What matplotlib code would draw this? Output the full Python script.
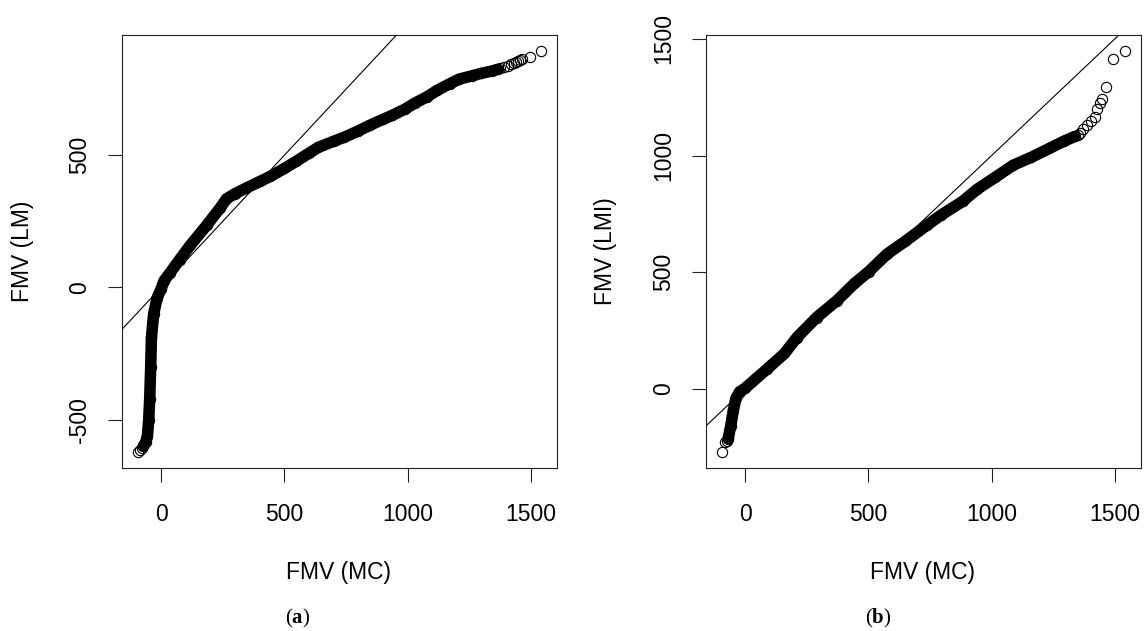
import matplotlib
matplotlib.use("Agg")
import matplotlib.pyplot as plt

plt.rcParams['font.family'] = ['Liberation Sans', 'DejaVu Sans']
plt.rcParams['mathtext.fontset'] = 'custom'
plt.rcParams['mathtext.rm'] = 'Liberation Serif'
plt.rcParams['mathtext.bf'] = 'Liberation Serif:bold'

# ---- Panel (a): FMV (MC) vs FMV (LM) quantile pairs ----
a_body_mc = [-72, -62, -55, -50, -46, -42, -39, -30, -16, 0, 12, 36, 75, 118,
             185, 239, 265, 300, 350, 401, 443, 500, 548, 600, 638, 700, 743,
             800, 848, 900, 938, 990, 1029, 1080, 1119, 1170, 1209, 1260,
             1299, 1340, 1365]
a_body_lm = [-600, -585, -560, -500, -420, -300, -190, -100, -40, -5, 25, 55,
             105, 159, 235, 300, 335, 355, 378, 401, 420, 450, 477, 508, 530,
             553, 568, 592, 614, 636, 651, 675, 697, 722, 745, 770, 788, 800,
             810, 818, 825]
a_tail_mc = [-95, -85, -78, 1375, 1390, 1405, 1419, 1430, 1440, 1449, 1457,
             1464, 1497, 1539]
a_tail_lm = [-622, -614, -606, 830, 834, 838, 844, 848, 852, 856, 860, 864,
             871, 894]

# ---- Panel (b): FMV (MC) vs FMV (LMI) quantile pairs ----
b_body_mc = [-68, -58, -47, -37, -22, 0, 90, 160, 210, 290, 372, 444, 502,
             576, 649, 737, 795, 883, 942, 1015, 1088, 1162, 1235, 1294, 1338]
b_body_lmi = [-210, -158, -89, -40, -12, 3, 86, 152, 220, 306, 378, 452, 503,
              578, 632, 701, 745, 804, 856, 907, 959, 993, 1031, 1062, 1082]
b_tail_mc = [-95, -80, -75, -70, 1350, 1360, 1370, 1389, 1403, 1418, 1428,
             1440, 1450, 1465, 1494, 1540]
b_tail_lmi = [-270, -228, -222, -216, 1090, 1096, 1113, 1130, 1148, 1165,
              1199, 1225, 1242, 1294, 1414, 1448]

# reference line y = x
ref_intercept = 0
ref_slope = 1

x_ticks = [0, 500, 1000, 1500]
a_y_ticks = [-500, 0, 500]
b_y_ticks = [0, 500, 1000, 1500]

W, H = 1146, 631
fig = plt.figure(figsize=(W / 100, H / 100), dpi=100)

ax_pos = [
    [121.5 / W, 163 / H, 435.3 / W, 433 / H],
    [705.5 / W, 163 / H, 435.3 / W, 433 / H],
]

panels = [
    (a_body_mc, a_body_lm, a_tail_mc, a_tail_lm, a_y_ticks, "FMV (LM)", 22.5, 285, "a", 339),
    (b_body_mc, b_body_lmi, b_tail_mc, b_tail_lmi, b_y_ticks, "FMV (LMI)", 606, 865, "b", 923),
]

for pos, (bx, by, tx, ty, yt, ylab, ylab_x, cap_x, cap, xlab_x) in zip(ax_pos, panels):
    ax = fig.add_axes(pos)
    ax.plot(bx, by, color='black', lw=8.3, solid_capstyle='round',
            solid_joinstyle='round', zorder=4)
    ax.plot(bx + tx, by + ty, linestyle='none', marker='o', ms=7.4,
            mfc='none', mec='black', mew=0.8, zorder=3)
    ax.margins(0.04)
    ax.autoscale_view()
    xl = ax.get_xlim()
    yl = ax.get_ylim()
    ax.axline((0, ref_intercept), slope=ref_slope, color='black', lw=0.8, zorder=2)
    ax.set_xlim(xl)
    ax.set_ylim(yl)
    ax.set_xticks(x_ticks)
    ax.set_xticklabels([str(v) for v in x_ticks], fontsize=16.5)
    ax.set_yticks(yt)
    ax.set_yticklabels([str(v) for v in yt], fontsize=16.5, rotation=90, va='center')
    ax.tick_params(axis='both', direction='out', length=10, width=0.8, color='#222222')
    ax.tick_params(axis='x', pad=15)
    ax.tick_params(axis='y', pad=12)
    for s in ax.spines.values():
        s.set_linewidth(0.8)
        s.set_color('#222222')
    fig.text(xlab_x / W, 1 - 572 / H, "FMV (MC)", ha='center', va='center', fontsize=16.5)
    fig.text(ylab_x / W, 1 - 251.5 / H, ylab, ha='center', va='center', rotation=90, fontsize=16.5)
    fig.text(cap_x / W, 1 - 618 / H, r"($\mathbf{%s}$)" % cap, ha='left', va='center',
             fontsize=15, family='Liberation Serif')

fig.savefig("out.png", dpi=100)
